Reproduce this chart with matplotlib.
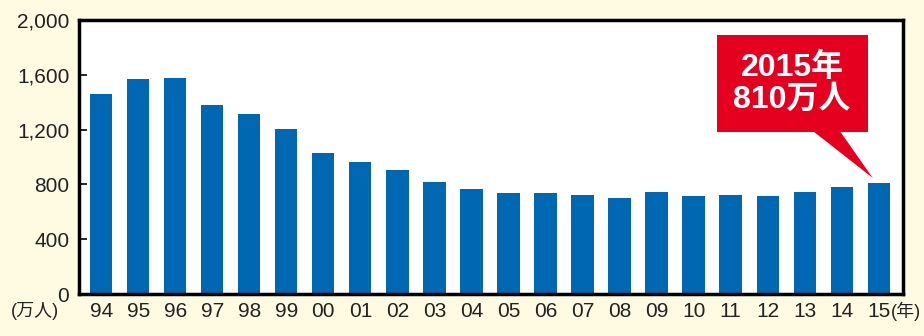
import matplotlib.pyplot as plt
from matplotlib.patches import Rectangle, Polygon
from matplotlib.ticker import FuncFormatter

plt.rcParams['font.family'] = ['Liberation Sans', 'Noto Sans CJK JP', 'DejaVu Sans']

years = ["94", "95", "96", "97", "98", "99", "00", "01", "02", "03", "04",
         "05", "06", "07", "08", "09", "10", "11", "12", "13", "14", "15"]
values = [1460, 1570, 1580, 1380, 1314, 1204, 1029, 963, 905, 817, 766,
          737, 737, 722, 700, 745, 715, 722, 715, 745, 781, 810]
yticks = [0, 400, 800, 1200, 1600, 2000]
callout_text = "2015年\n810万人"

BG = "#FFFBE3"
BLUE = "#0068B2"
RED = "#E60020"

fig = plt.figure(figsize=(9.24, 3.36), dpi=100, facecolor=BG)
ax = fig.add_axes([0.0855, 0.125, 0.8915, 0.8155])
ax.set_facecolor("white")

x = list(range(len(years)))
ax.bar(x, values, width=0.6, color=BLUE)

ax.set_xlim(-0.6, len(years) - 1 + 0.65)
ax.set_ylim(0, 2000)
ax.set_yticks(yticks)
ax.yaxis.set_major_formatter(FuncFormatter(lambda v, p: f"{int(v):,}"))
ax.set_xticks(x)
ax.set_xticklabels(years)
ax.tick_params(axis="y", direction="in", length=6, width=1.2, labelsize=15,
               pad=7, labelcolor="#222222")
ax.tick_params(axis="x", length=0, labelsize=15, pad=6, labelcolor="#222222")
for s in ax.spines.values():
    s.set_linewidth(2.5)
    s.set_color("black")

# unit labels
fig.text(0.038, 0.074, "(万人)", fontsize=13, ha="center", va="center", color="#222222")
fig.text(0.980, 0.074, "(年)", fontsize=13, ha="center", va="center", color="#222222")

# red callout
ax.add_patch(Rectangle((16.63, 1182), 20.70 - 16.63, 1890 - 1182,
                       facecolor=RED, edgecolor="none", zorder=5))
ax.add_patch(Polygon([(19.22, 1190), (19.95, 1190), (20.84, 847)],
                     closed=True, facecolor=RED, edgecolor="none", zorder=5))
ax.text((16.63 + 20.70) / 2, (1182 + 1890) / 2, callout_text, color="white",
        fontsize=23, fontweight="bold", ha="center", va="center",
        linespacing=1.05, zorder=6)

plt.savefig("out.png", dpi=100, facecolor=BG)
